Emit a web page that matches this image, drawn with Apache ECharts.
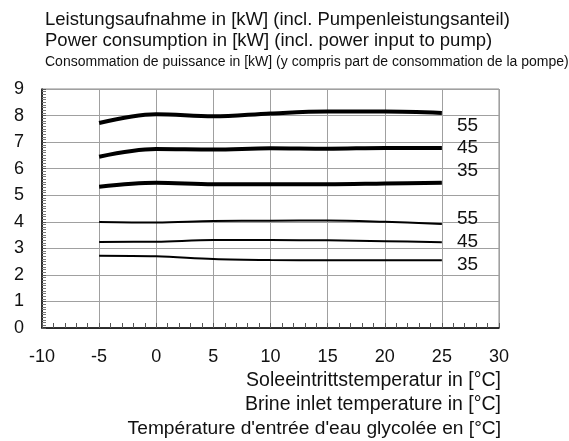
<!DOCTYPE html>
<html><head><meta charset="utf-8">
<script src="https://cdn.jsdelivr.net/npm/echarts@6/dist/echarts.min.js"></script>
<style>html,body{margin:0;padding:0;background:#fff}#c{width:569px;height:441px}</style>
</head><body><div id="c"></div>
<script>
var temps = [-5, 0, 5, 10, 15, 20, 25];
var thick55 = [7.72, 8.05, 7.97, 8.08, 8.15, 8.15, 8.10];
var thick45 = [6.45, 6.74, 6.72, 6.77, 6.75, 6.78, 6.78];
var thick35 = [5.32, 5.47, 5.41, 5.41, 5.41, 5.44, 5.47];
var thin55 = [3.99, 3.97, 4.03, 4.04, 4.05, 4.00, 3.92];
var thin45 = [3.24, 3.25, 3.31, 3.31, 3.30, 3.27, 3.23];
var thin35 = [2.72, 2.70, 2.60, 2.56, 2.55, 2.55, 2.55];
var seriesNames = ['55', '45', '35', '55', '45', '35'];
var titleLines = [
  'Leistungsaufnahme in [kW] (incl. Pumpenleistungsanteil)',
  'Power consumption in [kW] (incl. power input to pump)',
  'Consommation de puissance in [kW] (y compris part de consommation de la pompe)'
];
var xNameLines = [
  'Soleeintrittstemperatur in [°C]',
  'Brine inlet temperature in [°C]',
  'Température d\'entrée d\'eau glycolée en [°C]'
];

var F = 'Liberation Sans, Arial, sans-serif';
function pairs(v){ return temps.map(function(t,i){ return [t, v[i]]; }); }
var allData = [thick55, thick45, thick35, thin55, thin45, thin35];
var widths = [4, 4, 4, 2, 2, 2];
var offs = [[15, 13], [15, 0], [15, -12], [15, -5], [15, 0], [15, 4]];

var series = allData.map(function(d, i){
  return {
    type: 'line', name: seriesNames[i], data: pairs(d), smooth: 0.35,
    symbol: 'none', lineStyle: {color: '#000', width: widths[i]},
    endLabel: {show: true, formatter: seriesNames[i], color: '#111', fontSize: 19,
      fontFamily: F, distance: 0, offset: offs[i], align: 'left'},
    silent: true, animation: false
  };
});

function ts(fs){ return {fontSize: fs, fontWeight: 'normal', color: '#111', fontFamily: F}; }

var chart = echarts.init(document.getElementById('c'), null, {renderer: 'canvas'});
chart.setOption({
  animation: false,
  title: [
    {text: titleLines[0], left: 40, top: 5, textStyle: ts(18.5)},
    {text: titleLines[1], left: 40, top: 26, textStyle: ts(18.5)},
    {text: titleLines[2], left: 40, top: 50, textStyle: ts(14)},
    {text: xNameLines[0], right: 63, top: 366, textStyle: ts(19.5)},
    {text: xNameLines[1], right: 63, top: 390, textStyle: ts(19.5)},
    {text: xNameLines[2], right: 63, top: 414, textStyle: ts(19.2)}
  ],
  grid: {left: 42, right: 70, top: 89, bottom: 113, show: true, borderColor: '#8a8a8a', borderWidth: 1, containLabel: false},
  xAxis: {
    type: 'value', min: -10, max: 30, interval: 5,
    axisLine: {show: true, onZero: false, lineStyle: {color: '#000', width: 1.5}},
    axisTick: {show: true, inside: true, length: 5, lineStyle: {color: '#555'}},
    minorTick: {show: true, splitNumber: 5, length: 5, lineStyle: {color: '#555'}},
    splitLine: {show: true, lineStyle: {color: '#a0a0a0', width: 1}},
    axisLabel: {fontSize: 18, color: '#111', fontFamily: F, margin: 20}
  },
  yAxis: {
    type: 'value', min: 0, max: 9, interval: 1,
    axisLine: {show: true, onZero: false, lineStyle: {color: '#000', width: 1.5}},
    axisTick: {show: true, inside: true, length: 4, lineStyle: {color: '#555'}},
    minorTick: {show: true, splitNumber: 10, length: 4, lineStyle: {color: '#777'}},
    splitLine: {show: true, lineStyle: {color: '#a0a0a0', width: 1}},
    axisLabel: {fontSize: 18, color: '#111', fontFamily: F, margin: 18}
  },
  series: series
});
</script></body></html>
